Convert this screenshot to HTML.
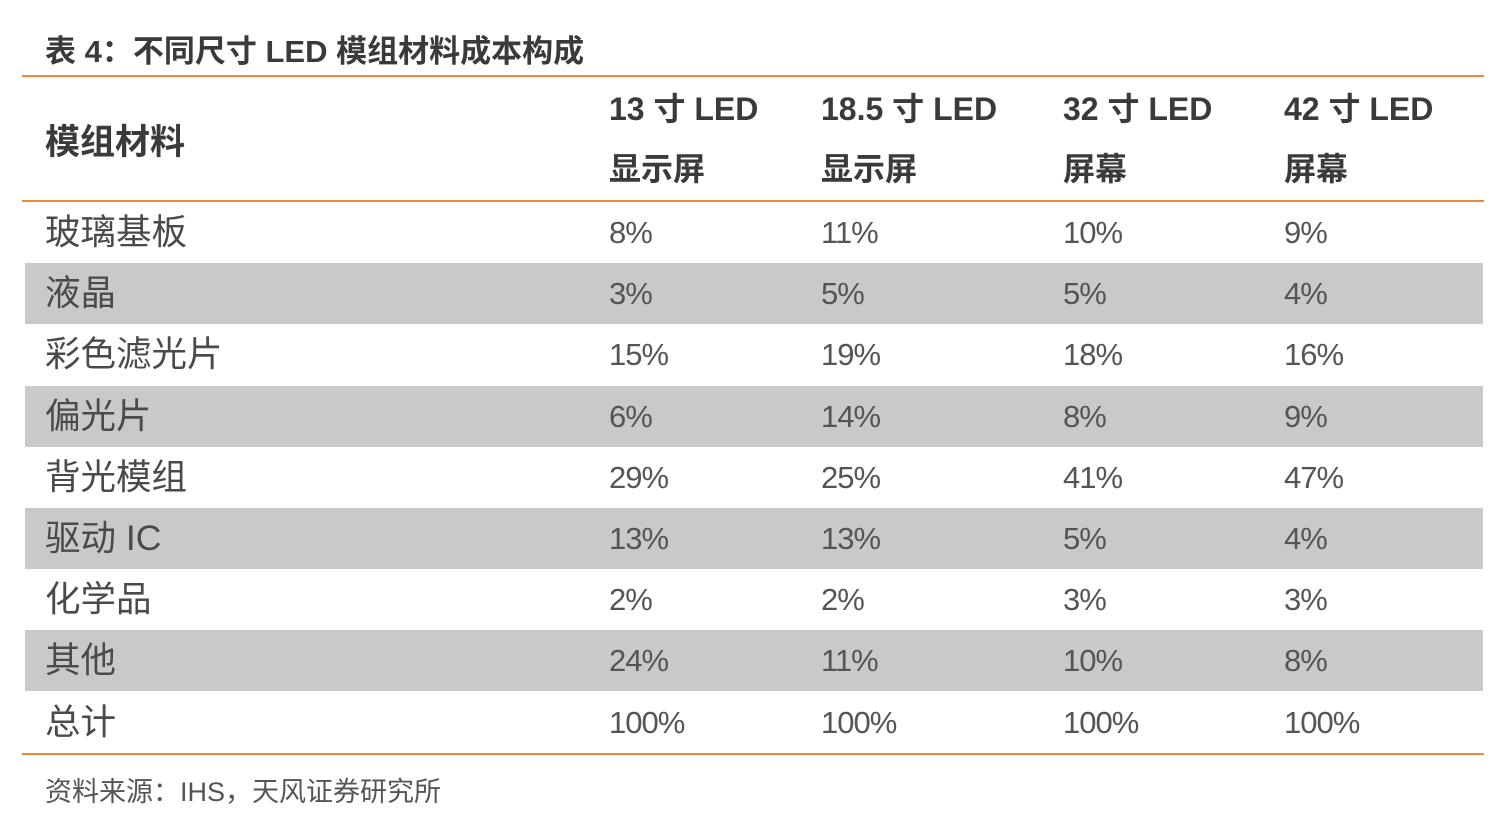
<!DOCTYPE html>
<html><head><meta charset="utf-8"><style>
body{margin:0;width:1500px;height:830px;background:#fff;position:relative;overflow:hidden;font-family:"Liberation Sans","Noto Sans CJK SC",sans-serif;color:#4a4a4a}
.abs{position:absolute;white-space:nowrap}
.line{position:absolute;left:22px;width:1462px;height:2px;background:#f0883a}
.row{position:absolute;left:25px;width:1458px;height:61px}
.gray{background:#c8c9cb}
.cell{position:absolute;font-size:31px;line-height:61px;top:0;letter-spacing:-1px;color:#555}
.lab{font-size:35.5px;letter-spacing:0;color:#4a4a4a}
.hd{font-weight:bold;font-size:32px;color:#3a3a3a}
</style></head><body>
<div class="abs" style="left:45px;top:26px;font-size:31px;font-weight:bold;color:#3a3a3a">表 4：不同尺寸 LED 模组材料成本构成</div>
<div class="line" style="top:75px"></div>
<div class="abs hd" style="left:45px;top:114px;font-size:35px">模组材料</div>
<div class="abs hd" style="left:609px;top:79px;line-height:60px">13 寸 LED<br>显示屏</div>
<div class="abs hd" style="left:821px;top:79px;line-height:60px">18.5 寸 LED<br>显示屏</div>
<div class="abs hd" style="left:1063px;top:79px;line-height:60px">32 寸 LED<br>屏幕</div>
<div class="abs hd" style="left:1284px;top:79px;line-height:60px">42 寸 LED<br>屏幕</div>
<div class="line" style="top:200px"></div>
<div id="rows"></div>
<div class="line" style="top:753px"></div>
<div class="abs" style="left:45px;top:770px;font-size:27px;color:#555">资料来源：IHS，天风证券研究所</div>
<script>
const labels=["玻璃基板","液晶","彩色滤光片","偏光片","背光模组","驱动 IC","化学品","其他","总计"];
const col13=["8%","3%","15%","6%","29%","13%","2%","24%","100%"];
const col185=["11%","5%","19%","14%","25%","13%","2%","11%","100%"];
const col32=["10%","5%","18%","8%","41%","5%","3%","10%","100%"];
const col42=["9%","4%","16%","9%","47%","4%","3%","8%","100%"];
const xs=[20,584,796,1038,1259];
const host=document.getElementById('rows');
labels.forEach((l,i)=>{
  const r=document.createElement('div');
  r.className='row'+(i%2?' gray':'');
  r.style.top=(202+i*61.2)+'px';
  
  
  [l,col13[i],col185[i],col32[i],col42[i]].forEach((t,j)=>{
    const c=document.createElement('div');
    c.className='cell'+(j===0?' lab':'');c.style.left=xs[j]+'px';c.textContent=t;
    
    
    r.appendChild(c);
  });
  host.appendChild(r);
});
</script>
</body></html>
